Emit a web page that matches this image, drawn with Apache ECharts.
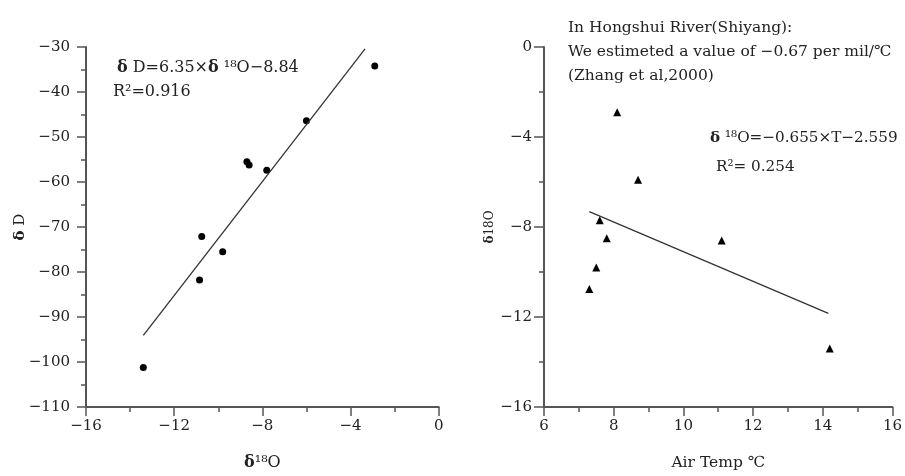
<!DOCTYPE html>
<html>
<head>
<meta charset="utf-8">
<script src="https://cdn.jsdelivr.net/npm/echarts@6/dist/echarts.min.js"></script>
<style>html,body{margin:0;padding:0;background:#fff}#c{width:905px;height:476px}</style>
</head>
<body>
<div id="c"></div>
<script>
// Left panel: deltaD vs delta18O
const leftO18 = [-2.9, -6.0, -8.7, -8.6, -7.8, -10.75, -9.8, -10.85, -13.4];
const leftDD  = [-34.2, -46.4, -55.5, -56.2, -57.4, -72.1, -75.5, -81.8, -101.2];
const leftFitX = [-13.4, -3.34];
const leftFitY = [-94.1, -30.4];
const leftXTicks = [-16, -12, -8, -4, 0];
const leftYTicks = [-110, -100, -90, -80, -70, -60, -50, -40, -30];

// Right panel: delta18O vs air temperature
const rightTemp = [8.1, 8.7, 7.6, 7.8, 11.1, 7.5, 7.3, 14.2];
const rightO18  = [-2.9, -5.9, -7.7, -8.5, -8.6, -9.8, -10.75, -13.4];
const rightFitX = [7.3, 14.16];
const rightFitY = [-7.32, -11.84];
const rightXTicks = [6, 8, 10, 12, 14, 16];
const rightYTicks = [-16, -12, -8, -4, 0];

const FONT = 'DejaVu Serif';
const TXT = '#222';
const AX = '#555';
const fmt = v => String(v).replace('-', '\u2212');

function zip(a, b) { return a.map((v, i) => [v, b[i]]); }

function axisCommon(interval, min, max, labelMargin, tickLen) {
  return {
    type: 'value', min, max, interval,
    axisLine: { show: true, onZero: false, lineStyle: { color: AX, width: 2 } },
    axisTick: { show: true, inside: false, length: tickLen, lineStyle: { color: AX, width: 1.5 } },
    minorTick: { show: true, splitNumber: 2, length: 5, lineStyle: { color: AX, width: 1.5 } },
    splitLine: { show: false },
    axisLabel: { color: TXT, fontFamily: FONT, fontSize: 15, margin: labelMargin, formatter: fmt }
  };
}

function rich(size) {
  return {
    d: { fontFamily: FONT, fontSize: size, fontWeight: 'bold', fill: TXT, color: TXT },
    n: { fontFamily: FONT, fontSize: size, fill: TXT, color: TXT }
  };
}

function txt(x, y, text, size) {
  return {
    type: 'text', x, y,
    style: { text, font: size + 'px "' + FONT + '"', fill: TXT, verticalAlign: 'middle', align: 'left', rich: rich(size) }
  };
}

const option = {
  backgroundColor: '#fff',
  animation: false,
  grid: [
    { left: 86, top: 47, width: 352.7, height: 360 },
    { left: 544, top: 47, width: 352.7, height: 360 }
  ],
  xAxis: [
    Object.assign(axisCommon(4, leftXTicks[0], leftXTicks[leftXTicks.length - 1], 12, 9), {
      gridIndex: 0, name: '{d|δ}{n|\u00b9\u2078O}', nameLocation: 'middle', nameGap: 48,
      nameTextStyle: { color: TXT, fontFamily: FONT, fontSize: 16, rich: rich(16) }
    }),
    Object.assign(axisCommon(2, rightXTicks[0], rightXTicks[rightXTicks.length - 1], 12, 9), {
      gridIndex: 1, name: 'Air Temp \u2103', nameLocation: 'middle', nameGap: 48,
      nameTextStyle: { color: TXT, fontFamily: FONT, fontSize: 15.5 }
    })
  ],
  yAxis: [
    Object.assign(axisCommon(10, leftYTicks[0], leftYTicks[leftYTicks.length - 1], 16, 9), {
      gridIndex: 0, name: '{d|δ}{n| D}', nameLocation: 'middle', nameGap: 58, nameRotate: 90,
      nameMoveOverlap: false,
      nameTextStyle: { color: TXT, fontFamily: FONT, fontSize: 15, rich: rich(15) }
    }),
    Object.assign(axisCommon(4, rightYTicks[0], rightYTicks[rightYTicks.length - 1], 12, 10), {
      gridIndex: 1, name: '{d|δ}{n|18O}', nameLocation: 'middle', nameGap: 48, nameRotate: 90,
      nameTextStyle: { color: TXT, fontFamily: FONT, fontSize: 12, rich: rich(12) }
    })
  ],
  series: [
    { type: 'line', xAxisIndex: 0, yAxisIndex: 0, data: zip(leftFitX, leftFitY), symbol: 'none',
      lineStyle: { color: '#333', width: 1.3 } },
    { type: 'scatter', xAxisIndex: 0, yAxisIndex: 0, data: zip(leftO18, leftDD), symbol: 'circle', symbolSize: 7,
      itemStyle: { color: '#000', opacity: 1 } },
    { type: 'line', xAxisIndex: 1, yAxisIndex: 1, data: zip(rightFitX, rightFitY), symbol: 'none',
      lineStyle: { color: '#333', width: 1.3 } },
    { type: 'scatter', xAxisIndex: 1, yAxisIndex: 1, data: zip(rightTemp, rightO18), symbol: 'triangle', symbolSize: 8,
      itemStyle: { color: '#000', opacity: 1 } }
  ],
  graphic: [
    txt(117, 68, '{d|δ}{n| D=6.35×}{d|δ}{n| \u00b9\u2078O\u22128.84}', 16),
    txt(113, 92, 'R\u00b2=0.916', 16),
    txt(568, 28, 'In Hongshui River(Shiyang):', 15.5),
    txt(568, 52, 'We estimeted a value of \u22120.67 per mil/\u2103', 15.5),
    txt(568, 76, '(Zhang et al,2000)', 15.5),
    txt(710, 138, '{d|δ}{n| \u00b9\u2078O=\u22120.655×T\u22122.559}', 15.2),
    txt(716, 167, 'R\u00b2= 0.254', 15.2)
  ]
};

const chart = echarts.init(document.getElementById('c'), null, { renderer: 'canvas' });
chart.setOption(option);
</script>
</body>
</html>
